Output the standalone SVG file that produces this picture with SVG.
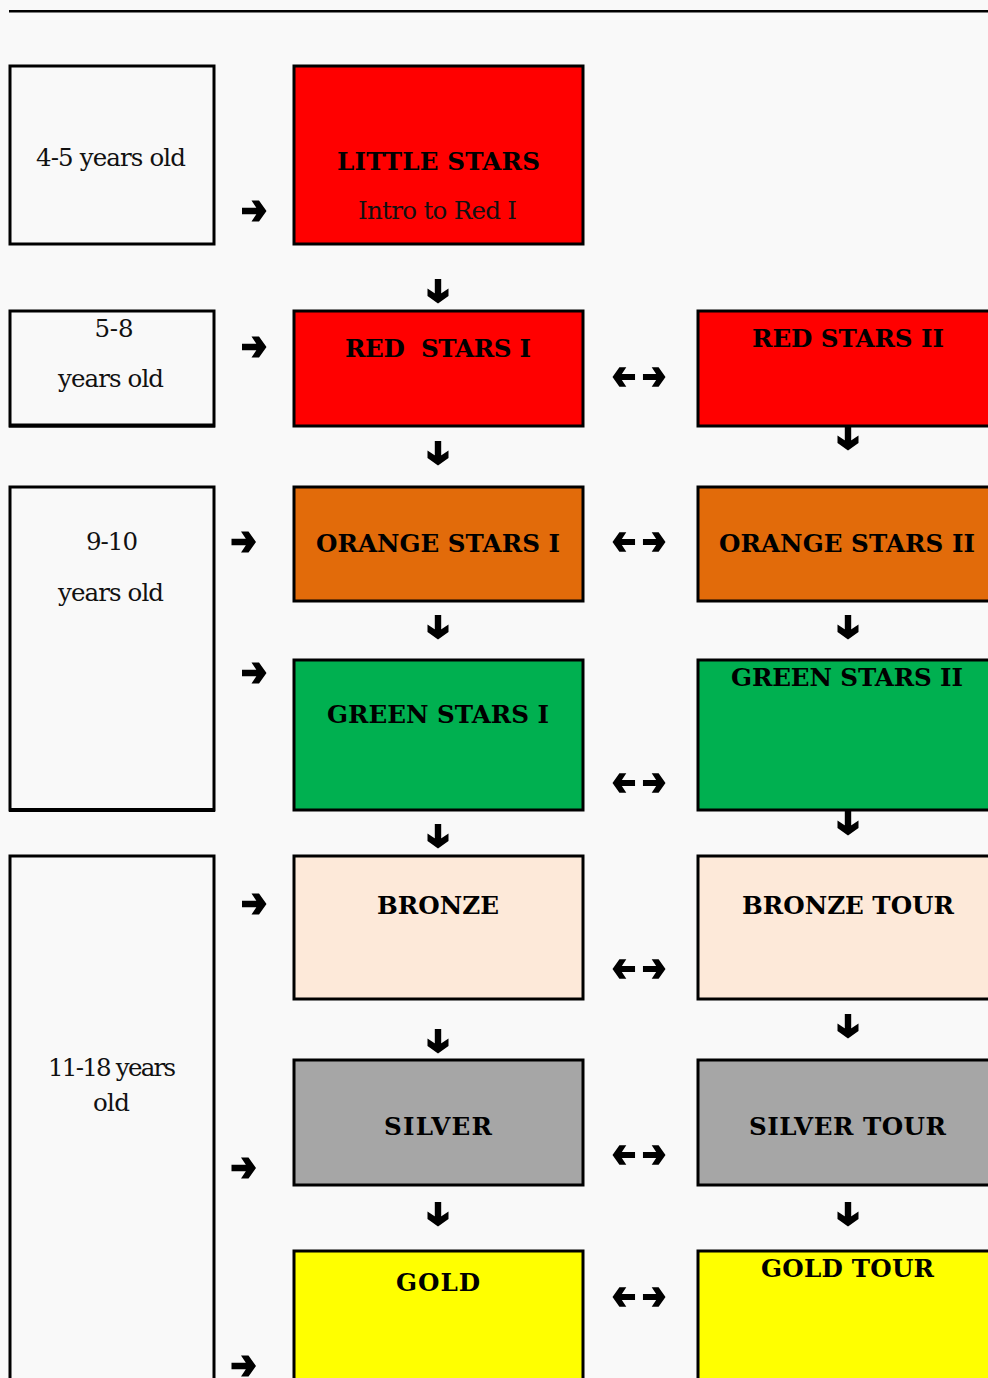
<svg xmlns="http://www.w3.org/2000/svg" width="988" height="1378" viewBox="0 0 988 1378">
<style>
.bg{fill:#f9f9f9}
.box{stroke:#000;stroke-width:3}
.age{fill:#f9f9f9}
.t{font-family:"DejaVu Serif","Liberation Serif",serif;font-size:24.5px;fill:#111;text-anchor:middle}
.b{font-family:"DejaVu Serif","Liberation Serif",serif;font-size:24.6px;font-weight:bold;fill:#000;text-anchor:middle}
.arr{fill:#000}
</style>
<defs>
<path id="ar" d="M-12,-3.2 H6 V3.2 H-12 Z M-2.5,-10.5 L5,-10.5 L12.5,0 L5,10.5 L-2.5,10.5 L4.5,0 Z"/>
</defs>
<rect class="bg" x="0" y="0" width="988" height="1378"/>
<line x1="9" y1="11.3" x2="988" y2="11.3" stroke="#000" stroke-width="2.6"/>

<g id="age-4-5">
<rect class="box age" x="10" y="66" width="204" height="178"/>
<text class="t" x="111" y="166" textLength="150">4-5 years old</text>
</g>
<g id="little-stars">
<rect class="box" fill="#ff0000" x="294" y="66" width="289" height="178"/>
<text class="b" x="438.5" y="170" textLength="203">LITTLE STARS</text>
<text class="t" x="437.5" y="219" textLength="159">Intro to Red I</text>
</g>

<g id="age-5-8">
<rect class="box age" x="10" y="311" width="204" height="115"/>
<line x1="9" y1="425.5" x2="215" y2="425.5" stroke="#000" stroke-width="3.8"/>
<text class="t" x="114" y="337" textLength="39">5-8</text>
<text class="t" x="111" y="387" textLength="106">years old</text>
</g>
<g id="red-stars-1">
<rect class="box" fill="#ff0000" x="294" y="311" width="289" height="115"/>
<text class="b" x="438" y="357" textLength="186" xml:space="preserve">RED  STARS I</text>
</g>
<g id="red-stars-2">
<rect class="box" fill="#ff0000" x="698" y="311" width="300" height="115"/>
<text class="b" x="848" y="347" textLength="192">RED STARS II</text>
</g>

<g id="age-9-10">
<rect class="box age" x="10" y="487" width="204" height="323"/>
<line x1="9" y1="810" x2="215" y2="810" stroke="#000" stroke-width="3.8"/>
<text class="t" x="112" y="550" textLength="52">9-10</text>
<text class="t" x="111" y="601" textLength="106">years old</text>
</g>
<g id="orange-stars-1">
<rect class="box" fill="#e26b0a" x="294" y="487" width="289" height="114"/>
<text class="b" x="438" y="552" textLength="244">ORANGE STARS I</text>
</g>
<g id="orange-stars-2">
<rect class="box" fill="#e26b0a" x="698" y="487" width="300" height="114"/>
<text class="b" x="847" y="552" textLength="256">ORANGE STARS II</text>
</g>
<g id="green-stars-1">
<rect class="box" fill="#00b050" x="294" y="660" width="289" height="150"/>
<text class="b" x="438" y="723" textLength="222">GREEN STARS I</text>
</g>
<g id="green-stars-2">
<rect class="box" fill="#00b050" x="698" y="660" width="300" height="150"/>
<text class="b" x="847" y="686" textLength="232">GREEN STARS II</text>
</g>

<g id="age-11-18">
<rect class="box age" x="10" y="856" width="204" height="540"/>
<text class="t" x="112" y="1076" textLength="128">11-18 years</text>
<text class="t" x="111.5" y="1111" textLength="37">old</text>
</g>
<g id="bronze">
<rect class="box" fill="#fde9d9" x="294" y="856" width="289" height="143"/>
<text class="b" x="438" y="914" textLength="122">BRONZE</text>
</g>
<g id="bronze-tour">
<rect class="box" fill="#fde9d9" x="698" y="856" width="300" height="143"/>
<text class="b" x="848" y="914" textLength="212">BRONZE TOUR</text>
</g>
<g id="silver">
<rect class="box" fill="#a6a6a6" x="294" y="1060" width="289" height="125"/>
<text class="b" x="438" y="1135" textLength="108">SILVER</text>
</g>
<g id="silver-tour">
<rect class="box" fill="#a6a6a6" x="698" y="1060" width="300" height="125"/>
<text class="b" x="847.5" y="1135" textLength="197">SILVER TOUR</text>
</g>
<g id="gold">
<rect class="box" fill="#ffff00" x="294" y="1251" width="289" height="140"/>
<text class="b" x="438" y="1291" textLength="84">GOLD</text>
</g>
<g id="gold-tour">
<rect class="box" fill="#ffff00" x="698" y="1251" width="300" height="140"/>
<text class="b" x="847.5" y="1277" textLength="173">GOLD TOUR</text>
</g>

<g id="connectors" class="arr">
<use href="#ar" transform="translate(254,211)"/>
<use href="#ar" transform="translate(254,347)"/>
<use href="#ar" transform="translate(243.5,542)"/>
<use href="#ar" transform="translate(254,673)"/>
<use href="#ar" transform="translate(254,904)"/>
<use href="#ar" transform="translate(243.5,1168)"/>
<use href="#ar" transform="translate(243.5,1366)"/>

<use href="#ar" transform="translate(438,291) rotate(90)"/>
<use href="#ar" transform="translate(438,453) rotate(90)"/>
<use href="#ar" transform="translate(438,627) rotate(90)"/>
<use href="#ar" transform="translate(438,836) rotate(90)"/>
<use href="#ar" transform="translate(438,1041) rotate(90)"/>
<use href="#ar" transform="translate(438,1214) rotate(90)"/>

<use href="#ar" transform="translate(848,438) rotate(90)"/>
<use href="#ar" transform="translate(848,627) rotate(90)"/>
<use href="#ar" transform="translate(848,823) rotate(90)"/>
<use href="#ar" transform="translate(848,1026) rotate(90)"/>
<use href="#ar" transform="translate(848,1214) rotate(90)"/>

<use href="#ar" transform="translate(624,377) scale(-0.92,0.92)"/>
<use href="#ar" transform="translate(654,377) scale(0.92)"/>
<use href="#ar" transform="translate(624,542) scale(-0.92,0.92)"/>
<use href="#ar" transform="translate(654,542) scale(0.92)"/>
<use href="#ar" transform="translate(624,783) scale(-0.92,0.92)"/>
<use href="#ar" transform="translate(654,783) scale(0.92)"/>
<use href="#ar" transform="translate(624,969) scale(-0.92,0.92)"/>
<use href="#ar" transform="translate(654,969) scale(0.92)"/>
<use href="#ar" transform="translate(624,1155) scale(-0.92,0.92)"/>
<use href="#ar" transform="translate(654,1155) scale(0.92)"/>
<use href="#ar" transform="translate(624,1297) scale(-0.92,0.92)"/>
<use href="#ar" transform="translate(654,1297) scale(0.92)"/>
</g>
</svg>
